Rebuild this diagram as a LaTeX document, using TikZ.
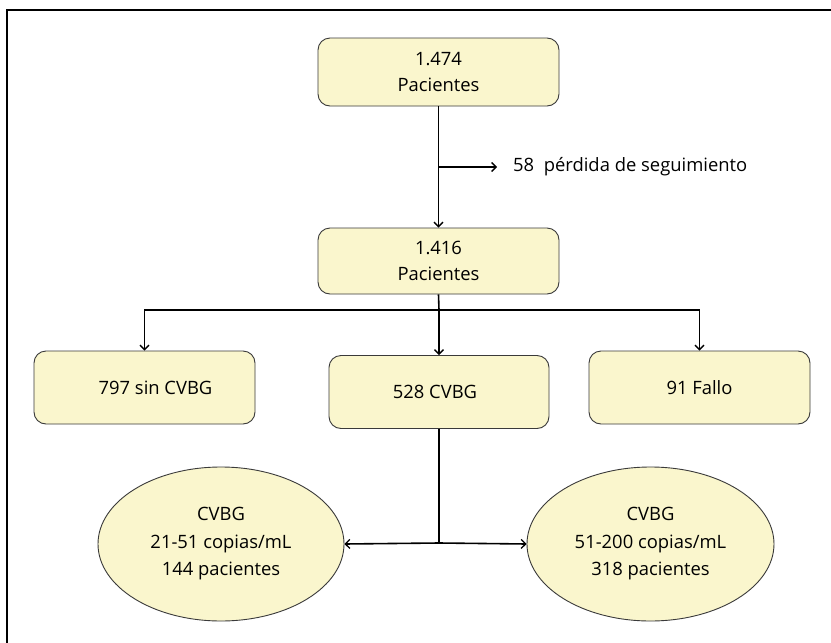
\documentclass[tikz,border=0pt]{standalone}
\usepackage{fontspec}
\setmainfont{Open Sans}
\usetikzlibrary{arrows.meta,shapes.geometric}
\definecolor{boxfill}{HTML}{FAF6CD}
\definecolor{boxline}{HTML}{3A3A3A}
\tikzset{
  flowbox/.style={draw=boxline, line width=0.9pt, fill=boxfill, rounded corners=12pt,
    align=center, font=\fontsize{18.4}{26}\selectfont, inner sep=0pt},
  flowell/.style={ellipse, draw=boxline, line width=0.9pt, fill=boxfill,
    align=center, font=\fontsize{18.4}{27.5}\selectfont, inner sep=0pt},
  conn/.style={line width=1.6pt, black},
  arr/.style={conn, -{Straight Barb[length=4.5pt,width=9pt,line width=1.3pt]}},
}
\begin{document}
\begin{tikzpicture}[x=1pt,y=-1pt]
\useasboundingbox (0,0) rectangle (831,643);
\fill[white] (0,0) rectangle (831,643);
\draw[line width=1.5pt] (7,643) -- (7,10) -- (831,10);

\node[flowbox, minimum width=241pt, minimum height=68pt] (top) at (438.5,72) {1.474\\Pacientes};
\node[flowbox, minimum width=241pt, minimum height=66pt] (mid) at (438.5,261) {1.416\\Pacientes};
\node[flowbox, minimum width=221pt, minimum height=73pt] (left) at (144.5,387.5) {\hspace*{22pt}797 sin CVBG};
\node[flowbox, minimum width=220pt, minimum height=73pt] (cen) at (439,392) {528 CVBG\hspace*{8pt}};
\node[flowbox, minimum width=221pt, minimum height=73pt] (right) at (699.5,387.5) {91 Fallo};
\node[flowell, minimum width=246pt, minimum height=154pt] (e1) at (221,544) {CVBG\\21-51 copias/mL\\144 pacientes};
\node[flowell, minimum width=247pt, minimum height=154pt] (e2) at (650.5,544) {CVBG\\51-200 copias/mL\\318 pacientes};
\node[anchor=west, inner xsep=16pt, inner ysep=0pt, font=\fontsize{18.4}{20}\selectfont] (loss) at (497,167) {58\ \ pérdida de seguimiento};

\coordinate (br) at (439,167);
\coordinate (j1) at (439,310);
\coordinate (j2) at (439,543);

\draw[arr] (top.south) -- (mid.north);
\draw[arr] (br) -- (loss.west);
\draw[conn] (mid.south) -- (j1);
\draw[arr] (j1) -- (cen.north);
\draw[arr] (j1) -| (left.north);
\draw[arr] (j1) -| (right.north);
\draw[conn] (cen.south) -- (j2);
\draw[arr] (j2) -- (e1.east);
\draw[arr] (j2) -- (e2.west);
\end{tikzpicture}
\end{document}
